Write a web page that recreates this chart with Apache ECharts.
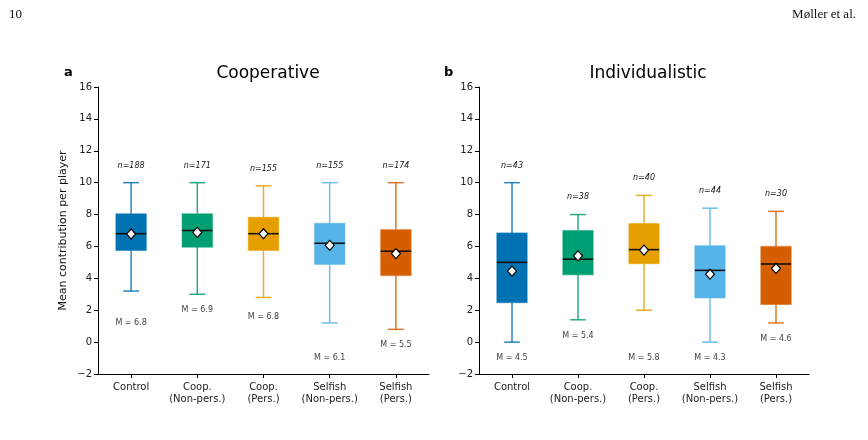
<!DOCTYPE html>
<html>
<head>
<meta charset="utf-8">
<script src="https://cdn.jsdelivr.net/npm/echarts@6/dist/echarts.min.js"></script>
<style>html,body{margin:0;padding:0;background:#fff}#c{width:868px;height:440px}</style>
</head>
<body>
<div id="c"></div>
<script>
// ---- data ----
var categories = ['Control', 'Coop.\n(Non-pers.)', 'Coop.\n(Pers.)', 'Selfish\n(Non-pers.)', 'Selfish\n(Pers.)'];
var colors = ['#0072B2', '#009E73', '#E69F00', '#56B4E9', '#D55E00'];
var yTicks = [-2, 0, 2, 4, 6, 8, 10, 12, 14, 16];

var coopLow  = [3.2, 3.0, 2.8, 1.2, 0.8];
var coopQ1   = [5.75, 5.95, 5.75, 4.87, 4.17];
var coopMed  = [6.8, 7.0, 6.8, 6.2, 5.7];
var coopQ3   = [8.05, 8.05, 7.83, 7.45, 7.05];
var coopHigh = [10, 10, 9.8, 10, 10];
var coopMean = [6.78, 6.88, 6.8, 6.07, 5.55];
var coopN    = [188, 171, 155, 155, 174];
var coopM    = ['6.8', '6.9', '6.8', '6.1', '5.5'];
var coopNY   = [11.07, 11.07, 10.88, 11.07, 11.07];
var coopMY   = [1.2, 2.0, 1.6, -1.0, -0.2];

var indLow  = [0, 1.4, 2.0, 0, 1.2];
var indQ1   = [2.47, 4.22, 4.92, 2.77, 2.36];
var indMed  = [5.0, 5.2, 5.8, 4.5, 4.9];
var indQ3   = [6.85, 7.0, 7.44, 6.05, 6.0];
var indHigh = [10, 8.0, 9.2, 8.4, 8.2];
var indMean = [4.45, 5.41, 5.77, 4.26, 4.62];
var indN    = [43, 38, 40, 44, 30];
var indM    = ['4.5', '5.4', '5.8', '4.3', '4.6'];
var indNY   = [11.07, 9.09, 10.27, 9.48, 9.29];
var indMY   = [-1.0, 0.4, -1.0, -1.0, 0.23];

// ---- helpers ----
function tint(hex, a) {
  var r = parseInt(hex.slice(1,3),16), g = parseInt(hex.slice(3,5),16), b = parseInt(hex.slice(5,7),16);
  return 'rgba(' + r + ',' + g + ',' + b + ',' + a + ')';
}
var FONT = 'DejaVu Sans';

function boxData(low, q1, med, q3, high) {
  return categories.map(function (c, i) { return [i, low[i], q1[i], med[i], q3[i], high[i]]; });
}

function boxSeries(idx, data) {
  return {
    type: 'custom', xAxisIndex: idx, yAxisIndex: idx, data: data, z: 2,
    renderItem: function (params, api) {
      var i = api.value(0);
      var col = colors[i];
      var band = api.size([1, 0])[0];
      var bw = band * 0.46, cw = bw * 0.52;
      var pLow = api.coord([i, api.value(1)]);
      var pQ1 = api.coord([i, api.value(2)]);
      var pMed = api.coord([i, api.value(3)]);
      var pQ3 = api.coord([i, api.value(4)]);
      var pHigh = api.coord([i, api.value(5)]);
      var x = pQ1[0];
      var wcol = tint(col, 0.85);
      return {
        type: 'group', children: [
          { type: 'line', shape: { x1: x, y1: pQ3[1], x2: x, y2: pHigh[1] }, style: { stroke: wcol, lineWidth: 1.5 } },
          { type: 'line', shape: { x1: x, y1: pQ1[1], x2: x, y2: pLow[1] }, style: { stroke: wcol, lineWidth: 1.5 } },
          { type: 'line', shape: { x1: x - cw / 2, y1: pHigh[1], x2: x + cw / 2, y2: pHigh[1] }, style: { stroke: wcol, lineWidth: 1.5 } },
          { type: 'line', shape: { x1: x - cw / 2, y1: pLow[1], x2: x + cw / 2, y2: pLow[1] }, style: { stroke: wcol, lineWidth: 1.5 } },
          { type: 'rect', shape: { x: x - bw / 2, y: pQ3[1], width: bw, height: pQ1[1] - pQ3[1] },
            style: { fill: col, stroke: tint(col, 0.45), lineWidth: 1.2 } },
          { type: 'line', shape: { x1: x - bw / 2, y1: pMed[1], x2: x + bw / 2, y2: pMed[1] }, style: { stroke: '#111', lineWidth: 1.6 } }
        ]
      };
    }
  };
}

function meanSeries(idx, mean) {
  return {
    type: 'scatter', xAxisIndex: idx, yAxisIndex: idx, z: 5,
    data: mean.map(function (v, i) { return [i, v]; }),
    symbol: 'diamond', symbolSize: [9, 10],
    itemStyle: { color: '#fff', borderColor: '#000', borderWidth: 1.2, opacity: 1 },
    emphasis: { disabled: true }, silent: true
  };
}

function textSeries(idx, ys, texts, italic, color) {
  return {
    type: 'custom', xAxisIndex: idx, yAxisIndex: idx, z: 6, silent: true,
    data: ys.map(function (v, i) { return [i, v]; }),
    renderItem: function (params, api) {
      var p = api.coord([api.value(0), api.value(1)]);
      return {
        type: 'text', x: p[0], y: p[1],
        style: { text: texts[params.dataIndex], fill: color, font: (italic ? 'italic ' : '') + '8px "' + FONT + '"',
                 align: 'center', verticalAlign: 'middle' }
      };
    }
  };
}

function yAxis(idx, withName) {
  var ax = {
    type: 'value', gridIndex: idx, min: -2, max: 16, interval: 2,
    axisLine: { show: true, onZero: false, lineStyle: { color: '#000', width: 1 } },
    axisTick: { show: true, length: 4, lineStyle: { color: '#000' } },
    splitLine: { show: false },
    axisLabel: { color: '#222', fontFamily: FONT, fontSize: 10, margin: 6,
      formatter: function (v) { return yTicks.indexOf(v) >= 0 ? String(v).replace('-', '\u2212') : ''; } }
  };
  if (withName) {
    ax.name = 'Mean contribution per player';
    ax.nameLocation = 'middle';
    ax.nameGap = 29;
    ax.nameTextStyle = { color: '#111', fontFamily: FONT, fontSize: 11 };
  }
  return ax;
}

function xAxis(idx) {
  return {
    type: 'category', gridIndex: idx, data: categories, boundaryGap: true,
    axisLine: { show: true, onZero: false, lineStyle: { color: '#000', width: 1 } },
    axisTick: { show: true, alignWithLabel: true, length: 4, lineStyle: { color: '#000' } },
    axisLabel: { color: '#222', fontFamily: FONT, fontSize: 10, lineHeight: 12, margin: 7, interval: 0 },
    splitLine: { show: false }
  };
}

var chart = echarts.init(document.getElementById('c'), null, { renderer: 'canvas' });
chart.setOption({
  animation: false,
  backgroundColor: '#fff',
  title: [
    { text: '10', left: 4, top: 3, textStyle: { fontFamily: 'Liberation Serif', fontSize: 13, fontWeight: 'normal', color: '#111' } },
    { text: 'Møller et al.', right: 7, top: 3, textStyle: { fontFamily: 'Liberation Serif', fontSize: 13, fontWeight: 'normal', color: '#111' } },
    { text: 'a', left: 59, top: 61, textStyle: { fontFamily: FONT, fontSize: 13, fontWeight: 'bold', color: '#000' } },
    { text: 'b', left: 439, top: 61, textStyle: { fontFamily: FONT, fontSize: 13, fontWeight: 'bold', color: '#000' } },
    { text: 'Cooperative', left: 263, top: 60, textAlign: 'center', textStyle: { fontFamily: FONT, fontSize: 17, fontWeight: 'normal', color: '#000' } },
    { text: 'Individualistic', left: 643, top: 60, textAlign: 'center', textStyle: { fontFamily: FONT, fontSize: 17, fontWeight: 'normal', color: '#000' } }
  ],
  grid: [
    { left: 98, right: 439, top: 87, bottom: 66 },
    { left: 479, right: 59, top: 87, bottom: 66 }
  ],
  xAxis: [xAxis(0), xAxis(1)],
  yAxis: [yAxis(0, true), yAxis(1, false)],
  series: [
    boxSeries(0, boxData(coopLow, coopQ1, coopMed, coopQ3, coopHigh)),
    meanSeries(0, coopMean),
    textSeries(0, coopNY, coopN.map(function (n) { return 'n=' + n; }), true, '#111'),
    textSeries(0, coopMY, coopM.map(function (m) { return 'M = ' + m; }), false, '#444'),
    boxSeries(1, boxData(indLow, indQ1, indMed, indQ3, indHigh)),
    meanSeries(1, indMean),
    textSeries(1, indNY, indN.map(function (n) { return 'n=' + n; }), true, '#111'),
    textSeries(1, indMY, indM.map(function (m) { return 'M = ' + m; }), false, '#444')
  ]
});
</script>
</body>
</html>
